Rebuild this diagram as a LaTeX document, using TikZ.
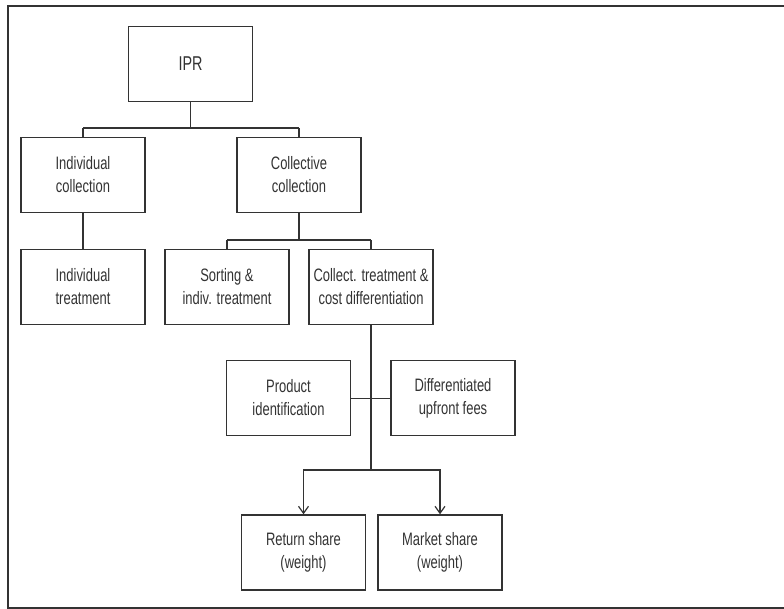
\documentclass[tikz,border=0pt]{standalone}
\usepackage{fontspec}
\setmainfont[FakeStretch=0.72]{Liberation Sans}
\usetikzlibrary{arrows.meta}
\definecolor{ink}{HTML}{333333}
\begin{document}
\begin{tikzpicture}[x=1pt,y=-1pt,
    box/.style={draw=ink,line width=1.4pt,minimum width=124pt,minimum height=75pt,align=center,text=ink,font=\fontsize{18}{23}\selectfont,inner sep=0pt},
    link/.style={draw=ink,line width=1.3pt},
    bus/.style={draw=ink,line width=2.6pt},
    tip/.style={-{Straight Barb[length=7pt,width=10pt,line width=1.2pt]}}]
    \useasboundingbox (0,0) rectangle (784,609);
    \draw[ink,line width=1.8pt] (784,6) -- (8,6) -- (8,608) -- (784,608);
    \node[box,font=\fontsize{20}{24}\selectfont] (ipr) at (190.5,64) {IPR};
    \node[box] (indcoll) at (83,175) {Individual\\collection};
    \node[box] (colcoll) at (299,175) {Collective\\collection};
    \node[box] (indtreat) at (83,287) {Individual\\treatment};
    \node[box] (sorting) at (227,287) {Sorting \&\\indiv. treatment};
    \node[box] (colltreat) at (371,287) {Collect. treatment \&\\cost differentiation};
    \node[box] (prodid) at (288.5,398) {Product\\identification};
    \node[box] (upfront) at (453,398) {Differentiated\\upfront fees};
    \node[box] (retshare) at (303.5,552.5) {Return share\\(weight)};
    \node[box] (mktshare) at (440,552.5) {Market share\\(weight)};
    \coordinate (busa) at (190.5,128);
    \coordinate (busb) at (299,240);
    \coordinate (busc) at (371,470);
    \draw[link] (ipr) -- (busa);
    \draw[bus] (indcoll.north |- busa) -- (colcoll.north |- busa);
    \draw[link] (indcoll.north |- busa) -- (indcoll.north);
    \draw[link] (colcoll.north |- busa) -- (colcoll.north);
    \draw[link] (indcoll) -- (indtreat);
    \draw[link] (colcoll) -- (busb);
    \draw[bus] (sorting.north |- busb) -- (colltreat.north |- busb);
    \draw[link] (sorting.north |- busb) -- (sorting.north);
    \draw[link] (colltreat.north |- busb) -- (colltreat.north);
    \draw[ink,line width=2pt] (colltreat) -- (busc);
    \draw[ink,line width=1pt] (prodid) -- (upfront);
    \draw[link,tip] (busc) -| (retshare.north);
    \draw[link,tip] (busc) -| (mktshare.north);
\end{tikzpicture}
\end{document}
